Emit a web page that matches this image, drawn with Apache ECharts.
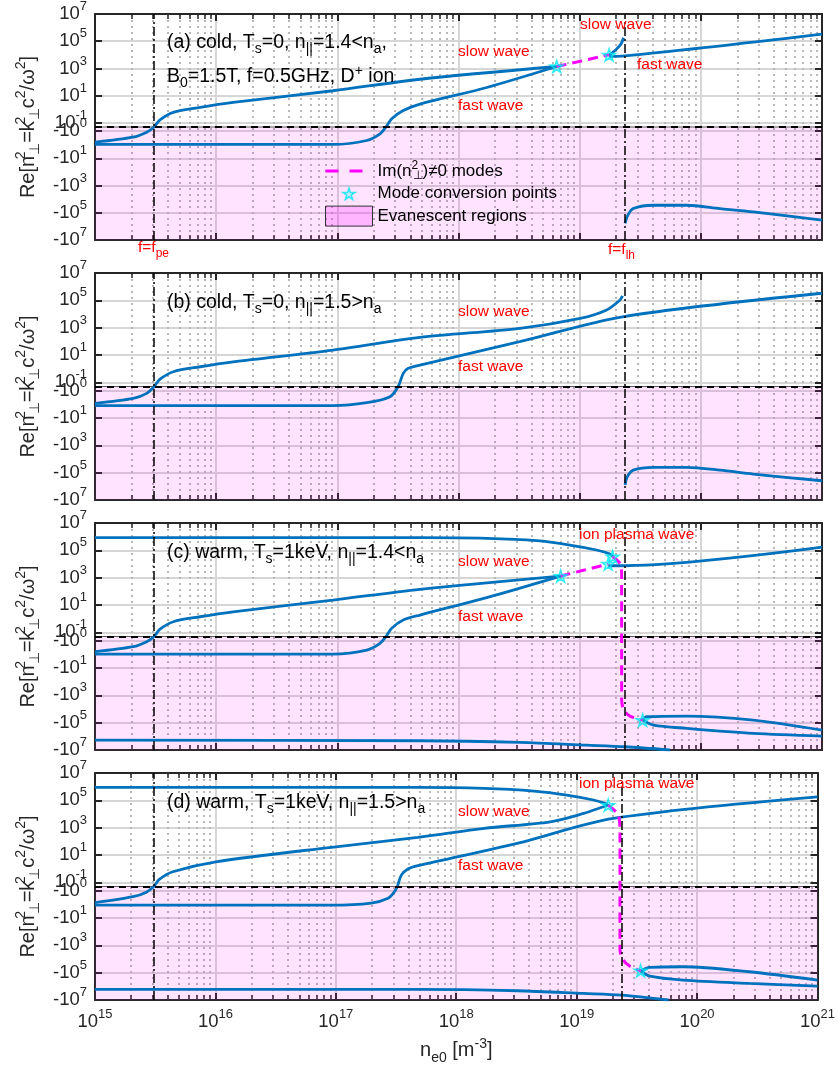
<!DOCTYPE html>
<html>
<head>
<meta charset="utf-8">
<title>Re(n_perp^2) vs density</title>
<script src="https://cdn.jsdelivr.net/npm/echarts@6.0.0/dist/echarts.min.js"></script>
</head>
<body style="margin:0;background:#fff">
<div id="main" style="width:838px;height:1068px;"></div>
<script>
// vertical axis is sign(n2)*(log10|n2| + K): |n2| = 0.05 sits on the zero line
var K = Math.log10(20);
var YMAX = 7 + K;

// densities (m^-3) of the two cut-off lines
var fPe = 3.07e15;
var fLh = 2.36e19;

// y ticks and their labels
var yTickVals = [1e7, 1e5, 1e3, 1e1, 1e-1, -1e-1, -1e1, -1e3, -1e5, -1e7];
var yTickText = ['10{sup|7}', '10{sup|5}', '10{sup|3}', '10{sup|1}', '10{sup|-1}',
                 '-10{sup|0}', '-10{sup|1}', '-10{sup|3}', '-10{sup|5}', '-10{sup|7}'];

// (a) cold, n_par = 1.4   [n_e0, Re(n_perp^2)]
var aSlow = [[1e15,-0.65],[2.06e15,-0.28],[2.67e15,-0.12],[3.07e15,0],[3.44e15,0.17],[4.43e15,0.6],[7.36e15,1.39],[1.38e16,3.2],[9.2e16,23],[4.8e17,161],[6.46e18,1390]];
var aFast = [[1e15,-0.96],[9.2e16,-0.96],[1.75e17,-0.49],[2.25e17,-0.16],[2.52e17,0],[2.81e17,0.2],[3.5e17,0.8],[4.81e17,2.4],[1.71e18,40],[6.46e18,1390]];
var aIm = [[6.46e18,1390],[1.75e19,1.0e4]];
var aSlowHi = [[1.76e19,1.0e4],[2.0e19,2.5e4],[2.2e19,6.5e4],[2.3e19,1.8e5]];
var aFastHi = [[1.75e19,7.8e3],[2.37e19,8.4e3],[1e21,3.3e5]];
var aNeg = [[2.37e19,-6.1e5],[2.5e19,-1.5e5],[2.77e19,-4.9e4],[4.06e19,-2.8e4],[7.64e19,-2.8e4],[1.44e20,-4.9e4],[2.71e20,-8.6e4],[1e21,-3.5e5]];
var aConv = [[6.46e18,1390],[1.75e19,1.0e4]];

// (b) cold, n_par = 1.5
var bSlow = [[1e15,-0.85],[2.07e15,-0.37],[2.67e15,-0.16],[3.07e15,0],[3.44e15,0.17],[4.43e15,0.6],[7.36e15,1.39],[1.38e16,3.2],[9.2e16,23],[4.81e17,197],[3.21e18,900],[1.01e19,4.8e3],[1.67e19,2.0e4],[2.15e19,1.06e5],[2.26e19,2.1e5]];
var bFast = [[1e15,-1.25],[9.2e16,-1.25],[1.75e17,-0.77],[2.72e17,-0.28],[3.18e17,0],[3.5e17,0.46],[3.85e17,1.06],[4.81e17,1.86],[3.2e18,94],[2.26e19,6.3e3],[1e21,3.3e5]];
var bNeg = [[2.37e19,-8.1e5],[2.47e19,-2.0e5],[2.77e19,-6.5e4],[4.06e19,-4.1e4],[7.64e19,-4.1e4],[1.44e20,-6.5e4],[2.71e20,-1.27e5],[1e21,-3.9e5]];

// (c) warm 1 keV, n_par = 1.4
var cIon = [[1e15,8.4e5],[4.81e17,8.4e5],[1.71e18,7.6e5],[4.42e18,5.1e5],[8.3e18,2.45e5],[1.38e19,1.06e5],[1.78e19,5.4e4],[1.87e19,3.4e4]];
var cSlow = [[1e15,-0.65],[2.06e15,-0.28],[2.67e15,-0.12],[3.07e15,0],[3.44e15,0.17],[4.43e15,0.6],[7.36e15,1.39],[1.38e16,3.2],[9.2e16,23],[4.81e17,141],[6.97e18,1320]];
var cFast = [[1e15,-0.96],[9.2e16,-0.96],[1.75e17,-0.49],[2.25e17,-0.16],[2.52e17,0],[2.81e17,0.2],[3.5e17,0.8],[4.81e17,1.86],[1.71e18,35],[6.97e18,1320]];
var cIm = [[6.97e18,1320],[1.72e19,1.0e4]];
var cImIon = [[1.87e19,3.4e4],[2.15e19,1.1e4],[2.22e19,1.57e3],[2.22e19,0],[2.22e19,-2.2e3],[2.32e19,-1.2e4],[2.6e19,-3.3e4],[3.31e19,-6.5e4]];
var cFastHi = [[1.72e19,7.5e3],[2.37e19,7.5e3],[1e21,1.7e5]];
var cNegUp = [[3.31e19,-6.5e4],[3.57e19,-3.7e4],[7.64e19,-3.3e4],[2.71e20,-6.5e4],[1e21,-3.5e5]];
var cNegLo = [[3.31e19,-6.5e4],[4.06e19,-1.5e5],[7.64e19,-2.6e5],[2.71e20,-6.1e5],[1e21,-9.6e5]];
var cBottom = [[1e15,-1.9e6],[4.81e17,-2.1e6],[3.21e18,-2.8e6],[1.14e19,-4.4e6],[2.37e19,-5.8e6],[5.56e19,-1e7]];
var cConv = [[6.97e18,1320],[1.72e19,1.0e4],[1.87e19,3.4e4],[3.31e19,-6.5e4]];

// (d) warm 1 keV, n_par = 1.5
var dIon = [[1e15,9e5],[4.81e17,9e5],[1.71e18,7.6e5],[4.42e18,4.8e5],[8.3e18,2.45e5],[1.38e19,1.06e5],[1.72e19,6.1e4],[1.83e19,4.5e4]];
var dSlow = [[1e15,-0.77],[2.07e15,-0.28],[2.67e15,-0.13],[3.07e15,0],[3.44e15,0.17],[4.43e15,0.6],[1.01e16,3.2],[9.2e16,37],[4.81e17,197],[1.71e18,900],[6.05e18,2.7e3],[1.14e19,1.1e4],[1.67e19,3.4e4],[1.83e19,4.5e4]];
var dFast = [[1e15,-1.15],[9.2e16,-1.15],[1.97e17,-0.81],[2.72e17,-0.36],[3.05e17,-0.13],[3.24e17,0],[3.5e17,0.34],[4.0e17,1.0],[4.81e17,1.7],[3.21e18,72],[2.02e19,4.8e3],[1e21,1.8e5]];
var dIm = [[1.83e19,4.5e4],[2.02e19,2.2e4],[2.22e19,8.4e3],[2.29e19,680],[2.29e19,0],[2.29e19,-2.2e3],[2.44e19,-1.2e4],[2.75e19,-3.3e4],[3.4e19,-7.3e4]];
var dNegUp = [[3.4e19,-7.3e4],[4.06e19,-4.1e4],[7.64e19,-3.7e4],[2.71e20,-8.6e4],[1e21,-3.5e5]];
var dNegLo = [[3.4e19,-7.3e4],[4.06e19,-1.8e5],[7.64e19,-3.5e5],[2.71e20,-6.1e5],[1e21,-9.6e5]];
var dBottom = [[1e15,-1.67e6],[4.81e17,-1.67e6],[3.21e18,-2.1e6],[1.14e19,-3.3e6],[2.37e19,-4.4e6],[5.8e19,-1e7]];
var dConv = [[1.83e19,4.5e4],[3.4e19,-7.3e4]];

var panels = [
  {blue: [aSlow, aFast, aSlowHi, aFastHi, aNeg], im: [aIm], conv: aConv},
  {blue: [bSlow, bFast, bNeg], im: [], conv: []},
  {blue: [cIon, cSlow, cFast, cFastHi, cNegUp, cNegLo, cBottom], im: [cIm, cImIon], conv: cConv},
  {blue: [dIon, dSlow, dFast, dNegUp, dNegLo, dBottom], im: [dIm], conv: dConv}
];

// text written inside the panels
var notes = [
  [167, 43, '(a) cold, T{sub|s}=0, n{sub|||}=1.4<n{sub|a},'],
  [167, 77, 'B{sub|0}=1.5T, f=0.5GHz, D{sup|+} ion'],
  [167, 303, '(b) cold, T{sub|s}=0, n{sub|||}=1.5>n{sub|a}'],
  [167, 553, '(c) warm, T{sub|s}=1keV, n{sub|||}=1.4<n{sub|a}'],
  [167, 803, '(d) warm, T{sub|s}=1keV, n{sub|||}=1.5>n{sub|a}']
];
var redNotes = [
  [580, 25, 'slow wave'], [458, 52, 'slow wave'], [637, 65, 'fast wave'], [458, 106, 'fast wave'],
  [138, 248, 'f=f{sub|pe}'], [608, 250, 'f=f{sub|lh}'],
  [458, 312, 'slow wave'], [458, 367, 'fast wave'],
  [579, 535, 'ion plasma wave'], [458, 562, 'slow wave'], [458, 617, 'fast wave'],
  [579, 784, 'ion plasma wave'], [458, 812, 'slow wave'], [458, 866, 'fast wave']
];

var FONT = '"Liberation Sans", Arial, Helvetica, sans-serif';
var INK = '#262626';
var BLUE = '#0072BD';
var RED = '#ff0000';
var IM = 'Im(n⊥²)≠0 modes';
var STAR = 'path://M-30 -35M130 125M50 0L61.2 34.6L97.6 34.5L68.1 55.9L79.4 90.5L50 69L20.6 90.5L31.9 55.9L2.4 34.5L38.8 34.6Z';
var DASH = 'path://M0 0M47 20M0 8.5h13v3h-13zM24 8.5h13v3h-13z';

function ty(v) {
  if (v === 0) return 0;
  var s = Math.max(Math.log10(Math.abs(v)) + K, 0);
  return v > 0 ? s : -s;
}
function toXY(pts) { return pts.map(function (p) { return [p[0], ty(p[1])]; }); }

// sup / sub styles for rich text; key is 'color' for options, 'fill' for graphic
function scripts(size, shift, color, key, lh) {
  function st(pad, w) {
    var o = {fontSize: size, fontFamily: FONT, lineHeight: lh || size, padding: pad};
    o[key] = color;
    if (w) o.width = w;
    return o;
  }
  return {
    sup: st([0, 0, 2 * shift, 0]),
    sub: st([2 * shift, 0, 0, 0]),
    sp: st([0, 0, 2 * shift, 0], 1)
  };
}

// keep the end ticks a hair inside the axis extent
var yTickPos = yTickVals.map(function (v) {
  var t = ty(v);
  return Math.max(Math.min(t, YMAX - 1e-6), -YMAX + 1e-6);
});
// labels go on two overlapping left axes (every other one) so none get dropped as overlapping
var yLabA = yTickPos.filter(function (v, i) { return i % 2 === 0; });
var yLabB = yTickPos.filter(function (v, i) { return i % 2 === 1; });
function yLabel(v) {
  var best = 0;
  for (var i = 1; i < yTickPos.length; i++) {
    if (Math.abs(yTickPos[i] - v) < Math.abs(yTickPos[best] - v)) best = i;
  }
  return yTickText[best];
}

var minorX = [];
for (var d = 15; d < 21; d++) {
  for (var k = 2; k <= 9; k++) minorX.push(d + Math.log10(k));
}

var tops = [13, 273, 523, 773];
var grid = [], xAxis = [], yAxis = [], series = [];

tops.forEach(function (top, g) {
  var last = g === tops.length - 1;
  grid.push({left: 95, width: 727, top: top, height: 227});

  var box = {show: true, onZero: false, lineStyle: {color: INK, width: 2}};
  ['bottom', 'top'].forEach(function (pos) {
    var low = pos === 'bottom';
    xAxis.push({
      type: 'log', logBase: 10, gridIndex: g, position: pos, min: 1e15, max: 1e21, splitNumber: 6,
      axisLine: box,
      axisTick: {show: true, inside: true, length: 7, lineStyle: {color: INK, width: 2}},
      axisLabel: {
        show: low && last, margin: 16, color: INK, fontFamily: FONT, fontSize: 18.5, lineHeight: 12,
        showMinLabel: true, showMaxLabel: true,
        formatter: function (v) { return '10{sup|' + Math.round(Math.log10(v)) + '}'; },
        rich: scripts(13, 7.5, INK, 'color', 12)
      },
      splitLine: {show: low, lineStyle: {color: '#d6d6d6', width: 2}},
      name: low && last ? 'n{sub|e0} [m{sup|-3}]' : '',
      nameLocation: 'middle', nameGap: 33,
      nameTextStyle: {fontSize: 20, fontFamily: FONT, color: INK, rich: scripts(14, 7, INK, 'color')}
    });
    xAxis.push({
      type: 'value', gridIndex: g, position: pos, min: 15, max: 21,
      axisLine: {show: false, onZero: false},
      axisTick: {show: true, inside: true, length: 5, customValues: minorX, lineStyle: {color: INK, width: 1.5}},
      axisLabel: {show: false},
      splitLine: {show: low, lineStyle: {color: '#b8b8b8', width: 2, type: [2, 4]}}
    });
  });

  var yLabelStyle = {
    formatter: yLabel, margin: 8, lineHeight: 12, showMinLabel: true, showMaxLabel: true,
    color: INK, fontFamily: FONT, fontSize: 18.5, rich: scripts(13, 7.5, INK, 'color', 12)
  };
  // main left axis: box line, all ticks, grid lines, half the labels, title
  yAxis.push({
    type: 'value', gridIndex: g, position: 'left', min: -YMAX, max: YMAX,
    axisLine: box,
    axisTick: {show: true, inside: true, length: 7, customValues: yTickPos, lineStyle: {color: INK, width: 2}},
    axisLabel: Object.assign({customValues: yLabA}, yLabelStyle),
    splitLine: {show: true, lineStyle: {color: '#d6d6d6', width: 2}},
    name: 'Re[n{sp|2}{sub|⊥}=k{sp|2}{sub|⊥}c{sup|2}/ω{sup|2}]',
    nameLocation: 'middle', nameGap: 57, nameRotate: 90,
    nameTextStyle: {fontSize: 20, fontFamily: FONT, color: INK, rich: scripts(14, 7, INK, 'color')}
  });
  // second left axis: only the other half of the labels
  yAxis.push({
    type: 'value', gridIndex: g, position: 'left', min: -YMAX, max: YMAX,
    axisLine: {show: false, onZero: false}, axisTick: {show: false}, splitLine: {show: false},
    axisLabel: Object.assign({customValues: yLabB}, yLabelStyle)
  });
  // right edge of the box
  yAxis.push({
    type: 'value', gridIndex: g, position: 'right', min: -YMAX, max: YMAX,
    axisLine: box,
    axisTick: {show: true, inside: true, length: 7, customValues: yTickPos, lineStyle: {color: INK, width: 2}},
    axisLabel: {show: false}, splitLine: {show: false}
  });

  var xi = 4 * g, yi = 3 * g;
  var dashDot = {color: '#000', width: 1.5, type: [9, 3, 2, 3]};
  series.push({
    type: 'line', name: 'Evanescent regions', xAxisIndex: xi, yAxisIndex: yi, data: [], z: 1, silent: true,
    markArea: {
      silent: true,
      itemStyle: {color: 'rgba(255,0,255,0.11)', borderColor: '#333', borderWidth: 0.8},
      data: [[{yAxis: -YMAX}, {yAxis: 0}]]
    },
    markLine: {
      silent: true, symbol: ['none', 'none'], label: {show: false},
      data: [
        {yAxis: 0, lineStyle: {color: '#000', width: 2, type: [7, 5]}},
        {xAxis: fPe, lineStyle: dashDot},
        {xAxis: fLh, lineStyle: dashDot}
      ]
    }
  });

  var p = panels[g];
  p.blue.forEach(function (pts) {
    series.push({
      type: 'line', name: 'branch', xAxisIndex: xi, yAxisIndex: yi, data: toXY(pts),
      symbol: 'none', smooth: 0.3, z: 3, silent: true,
      lineStyle: {color: BLUE, width: 2.8}
    });
  });
  p.im.forEach(function (pts) {
    series.push({
      type: 'line', name: IM, xAxisIndex: xi, yAxisIndex: yi, data: toXY(pts),
      symbol: 'none', smooth: 0.3, z: 4, silent: true,
      lineStyle: {color: '#ff00ff', width: 3, type: [10, 6]}
    });
  });
  if (p.conv.length) {
    series.push({
      type: 'scatter', name: 'Mode conversion points', xAxisIndex: xi, yAxisIndex: yi, data: toXY(p.conv),
      symbol: STAR, symbolSize: 21, z: 5, silent: true,
      itemStyle: {color: 'rgba(0,255,255,0.25)', borderColor: '#00e8f0', borderWidth: 1.6}
    });
  }
});

var graphic = [];
var blackRich = scripts(14, 6, '#000', 'fill');
notes.forEach(function (n) {
  graphic.push({type: 'text', x: n[0], y: n[1], silent: true, z: 10,
    style: {text: n[2], fill: '#000', fontSize: 19.5, fontFamily: FONT, verticalAlign: 'middle', rich: blackRich}});
});
var redRich = scripts(12, 6, RED, 'fill');
redNotes.forEach(function (n) {
  graphic.push({type: 'text', x: n[0], y: n[1], silent: true, z: 10,
    style: {text: n[2], fill: RED, fontSize: 15.5, fontFamily: FONT, verticalAlign: 'middle', rich: redRich}});
});

var chart = echarts.init(document.getElementById('main'));
chart.setOption({
  animation: false,
  backgroundColor: '#fff',
  textStyle: {fontFamily: FONT},
  grid: grid,
  xAxis: xAxis,
  yAxis: yAxis,
  legend: {
    left: 325, top: 160, orient: 'vertical', padding: 0, itemGap: 1,
    itemWidth: 47, itemHeight: 20, selectedMode: false,
    textStyle: {fontSize: 17, color: '#000', fontFamily: FONT, lineHeight: 20, rich: scripts(12, 5, '#000', 'color')},
    formatter: function (name) { return name === IM ? 'Im(n{sp|2}{sub|⊥})≠0 modes' : name; },
    data: [
      {name: IM, icon: DASH, itemStyle: {color: '#ff00ff', borderWidth: 0}},
      {name: 'Mode conversion points', icon: STAR, itemStyle: {color: 'rgba(0,255,255,0.25)', borderColor: '#00e8f0', borderWidth: 1.6}},
      {name: 'Evanescent regions', icon: 'rect', itemStyle: {color: 'rgba(255,0,255,0.2)', borderColor: '#333', borderWidth: 1}}
    ]
  },
  graphic: graphic,
  series: series
});
</script>
</body>
</html>
